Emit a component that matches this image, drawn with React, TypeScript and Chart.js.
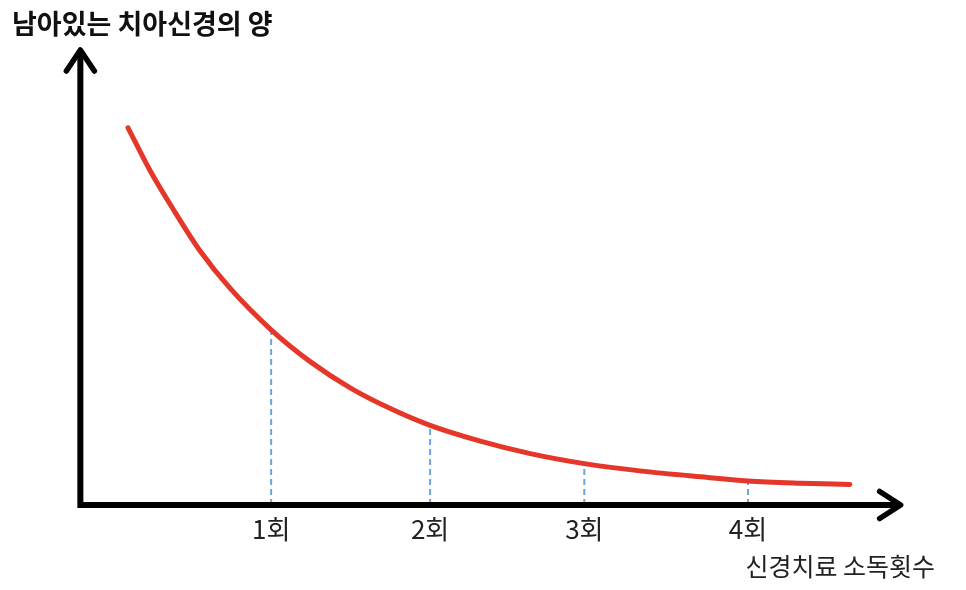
import React, { useEffect, useRef } from "react";
import { Chart, registerables } from "chart.js";

Chart.register(...registerables);

// ---- data ----
const TITLE = "남아있는 치아신경의 양";
const X_TITLE = "신경치료 소독횟수";

// remaining nerve amount curve (x = treatment count, y = relative amount)
const CURVE_X = [0.1, 0.24, 0.4, 0.55, 0.74, 1.0, 1.25, 1.5, 1.75, 2.0, 2.31, 2.63, 2.97, 3.32, 3.7, 4.0, 4.33, 4.64];
const CURVE_Y = [82.9, 73.4, 64.1, 56.0, 47.7, 38.5, 31.4, 25.7, 21.2, 17.5, 14.1, 11.3, 9.1, 7.5, 6.2, 5.3, 4.8, 4.5];

// dashed drop lines at each treatment
const DASH_X = [1.0, 2.0, 2.97, 4.0];
const DASH_TOP = [38.5, 17.5, 9.1, 5.3];
const TICK_LABELS = ["1회", "2회", "3회", "4회"];

// axis extent (origin of the drawn axes and arrow tips)
const AXIS_X0 = -0.2;
const AXIS_X_END = 4.96;
const AXIS_Y0 = 0;
const AXIS_Y_END = 100;

const X_MIN = -0.63;
const X_MAX = 5.176;

const FONT = "'Noto Sans CJK KR', 'Noto Sans', sans-serif";

const axesPlugin = {
  id: "arrowAxes",
  afterDatasetsDraw(chart: any) {
    const { ctx, scales } = chart;
    const xs = scales.x;
    const ys = scales.y;
    const ox = xs.getPixelForValue(AXIS_X0);
    const oy = ys.getPixelForValue(AXIS_Y0);
    const topY = ys.getPixelForValue(AXIS_Y_END);
    const rightX = xs.getPixelForValue(AXIS_X_END);
    ctx.save();
    ctx.strokeStyle = "#000";
    ctx.lineWidth = 6;
    ctx.lineJoin = "miter";
    ctx.lineCap = "round";
    ctx.beginPath();
    ctx.moveTo(ox, topY + 2);
    ctx.lineTo(ox, oy);
    ctx.lineTo(rightX - 2, oy);
    ctx.stroke();
    // arrow heads
    ctx.lineWidth = 5.5;
    ctx.lineJoin = "round";
    ctx.beginPath();
    ctx.moveTo(ox - 14, topY + 21);
    ctx.lineTo(ox, topY);
    ctx.lineTo(ox + 14, topY + 21);
    ctx.stroke();
    ctx.beginPath();
    ctx.moveTo(rightX - 21, oy - 13.5);
    ctx.lineTo(rightX, oy);
    ctx.lineTo(rightX - 21, oy + 13.5);
    ctx.stroke();
    ctx.restore();
  },
};

export default function App() {
  const ref = useRef<HTMLCanvasElement | null>(null);

  useEffect(() => {
    if (!ref.current) return;
    const curve = CURVE_X.map((x, i) => ({ x, y: CURVE_Y[i] }));
    const dashSets = DASH_X.map((x, i) => ({
      type: "line" as const,
      data: [
        { x, y: AXIS_Y0 },
        { x, y: DASH_TOP[i] },
      ],
      borderColor: "#6aa6dc",
      borderWidth: 2,
      borderDash: [6, 4],
      pointRadius: 0,
      fill: false,
    }));
    const chart = new Chart(ref.current, {
      type: "line",
      data: {
        datasets: [
          {
            data: curve,
            borderColor: "#e5362a",
            borderWidth: 5,
            borderCapStyle: "round",
            cubicInterpolationMode: "monotone",
            pointRadius: 0,
            fill: false,
          },
          ...dashSets,
        ],
      },
      options: {
        animation: false,
        responsive: false,
        devicePixelRatio: 1,
        layout: { padding: { left: 12, right: 31, top: 0, bottom: 0 } },
        plugins: {
          legend: { display: false },
          tooltip: { enabled: false },
          title: {
            display: true,
            text: TITLE,
            align: "start",
            color: "#111",
            font: { family: FONT, size: 27, weight: "bold" },
            padding: { top: 8, bottom: 9.6 },
          },
        },
        scales: {
          x: {
            type: "linear",
            min: X_MIN,
            max: X_MAX,
            grid: { display: false, drawTicks: false },
            border: { display: false },
            afterBuildTicks: (scale: any) => {
              scale.ticks = DASH_X.map((v) => ({ value: v }));
            },
            ticks: {
              autoSkip: false,
              maxRotation: 0,
              padding: 9,
              color: "#222",
              font: { family: FONT, size: 26 },
              callback: (_v: any, i: number) => TICK_LABELS[i],
            },
            title: {
              display: true,
              text: X_TITLE,
              align: "end",
              color: "#222",
              font: { family: FONT, size: 25 },
              padding: { top: 2, bottom: 9 },
            },
            afterFit: (scale: any) => {
              scale.height = 85;
            },
          },
          y: {
            display: false,
            min: AXIS_Y0,
            max: AXIS_Y_END,
          },
        },
      },
      plugins: [axesPlugin],
    });
    return () => chart.destroy();
  }, []);

  return (
    <div style={{ position: "fixed", left: 0, top: 0, width: 966, height: 590, background: "#fff" }}>
      <canvas ref={ref} width={966} height={590} style={{ width: 966, height: 590, display: "block" }} />
    </div>
  );
}
